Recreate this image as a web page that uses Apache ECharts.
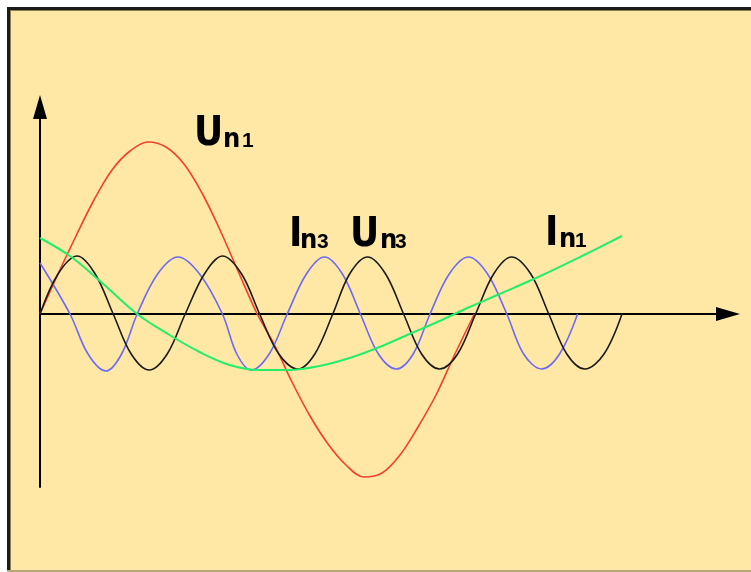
<!DOCTYPE html>
<html>
<head>
<meta charset="utf-8">
<script src="https://cdn.jsdelivr.net/npm/echarts@6/dist/echarts.min.js"></script>
<style>
  html, body { margin: 0; padding: 0; background: #fff; }
  #chart { width: 751px; height: 572px; }
</style>
</head>
<body>
<div id="chart"></div>
<script>
// x: electrical degrees of the fundamental, y: drawing units (0 = time axis)
const un1X = [0, 15, 30, 45, 60, 75, 90, 105, 120, 135, 150, 165, 181, 195, 210, 225, 240, 255, 270, 285, 300, 315, 330, 345, 362]
const un1Y = [0, 40, 78, 114, 144, 163, 172, 167, 150, 121, 84, 43, 0, -30, -68, -102, -130, -151, -163, -159, -141, -113, -81, -42, 0]

const un3X = [0, 15, 31, 46, 61, 76, 91, 106, 121, 137, 152, 168, 183, 199, 215, 229, 244, 258, 273, 288, 303, 318, 333, 348, 363, 378, 393, 409, 424, 439, 454, 470, 485]
const un3Y = [0, 40, 58, 40, 0, -40, -56, -40, 0, 40, 58, 40, 0, -40, -55, -40, 0, 40, 57, 40, 0, -40, -55, -40, 0, 40, 57, 40, 0, -40, -55, -40, 0]

const in3X = [0, 25, 40, 55, 68, 81, 98, 115, 133, 152, 164, 176, 191, 206, 222, 237, 252, 267, 282, 297, 311, 325, 341, 357, 373, 389, 403, 418, 433, 448]
const in3Y = [51, 0, -40, -57, -40, 0, 40, 57, 40, 0, -40, -56, -40, 0, 40, 57, 40, 0, -40, -55, -40, 0, 40, 57, 40, 0, -40, -55, -40, 0]

const in1X = [0, 25, 50, 81, 108, 133, 158, 183, 208, 233, 258, 283, 308, 333, 358, 383, 417, 450, 485]
const in1Y = [76, 58, 33, 0, -21, -38, -51, -56, -56, -52, -44, -33, -20, -7, 7, 20, 38, 57, 78]

// curve labels: big letter + small "n" + harmonic number
const labelBig = ['U', 'I', 'U', 'I']
const labelNum = ['1', '3', '3', '1']

const labelPos = [
  { big: 194, n: 223, num: 242, base: 149 },
  { big: 289, n: 300, num: 317, base: 250 },
  { big: 350, n: 380, num: 395, base: 250 },
  { big: 545, n: 559, num: 575, base: 249 }
]

function zip (xs, ys) {
  return xs.map((x, i) => [x, ys[i]])
}

const font = "'Liberation Sans Narrow', 'DejaVu Sans Condensed', 'Liberation Sans', sans-serif"
function txt (s, x, base, size, family) {
  return {
    type: 'text',
    z: 20,
    x: x,
    y: base - 0.35 * size,
    style: {
      text: s,
      fontFamily: family || font,
      fontWeight: 'bold',
      fontSize: size,
      fill: '#000',
      align: 'left',
      verticalAlign: 'middle'
    }
  }
}

const graphics = [
  // page frame
  { type: 'rect', z: -10, shape: { x: 7, y: 7, width: 760, height: 565 }, style: { fill: '#FFE8A6' } },
  { type: 'rect', z: -9, shape: { x: 7, y: 7, width: 760, height: 3 }, style: { fill: '#1d1b18' } },
  { type: 'rect', z: -9, shape: { x: 7, y: 10, width: 760, height: 1 }, style: { fill: '#8f7d55' } },
  { type: 'rect', z: -9, shape: { x: 7, y: 7, width: 3, height: 565 }, style: { fill: '#1d1b18' } },
  { type: 'rect', z: -9, shape: { x: 10, y: 10, width: 1, height: 562 }, style: { fill: '#8f7d55' } },
  { type: 'rect', z: -9, shape: { x: 7, y: 570, width: 760, height: 2 }, style: { fill: '#b3a97a' } }
]
labelPos.forEach((p, i) => {
  graphics.push(txt(labelBig[i], p.big, p.base, 40))
  graphics.push(txt('n', p.n, p.base, 27))
  graphics.push(txt(labelNum[i], p.num, p.base, 21, "'Liberation Sans', sans-serif"))
})

const lineBase = {
  type: 'line',
  showSymbol: false,
  smooth: 0.35,
  animation: false,
  silent: true
}

const option = {
  backgroundColor: '#fff',
  animation: false,
  grid: { left: 40, right: 23, top: 107, bottom: 85 },
  xAxis: {
    type: 'value',
    min: 0,
    max: 573.33,
    axisLine: {
      onZero: true,
      symbol: ['none', 'triangle'],
      symbolSize: [14, 24],
      lineStyle: { color: '#000', width: 2 }
    },
    axisTick: { show: false },
    axisLabel: { show: false },
    splitLine: { show: false }
  },
  yAxis: {
    type: 'value',
    min: -173,
    max: 207,
    axisLine: {
      show: true,
      onZero: true,
      symbol: ['none', 'triangle'],
      symbolSize: [14, 24],
      lineStyle: { color: '#000', width: 2 }
    },
    axisTick: { show: false },
    axisLabel: { show: false },
    splitLine: { show: false }
  },
  series: [
    Object.assign({}, lineBase, { name: 'Un1', data: zip(un1X, un1Y), lineStyle: { color: '#F0412B', width: 1.6 } }),
    Object.assign({}, lineBase, { name: 'In3', data: zip(in3X, in3Y), lineStyle: { color: '#6B6BF5', width: 1.6 } }),
    Object.assign({}, lineBase, { name: 'Un3', data: zip(un3X, un3Y), lineStyle: { color: '#1a1a1a', width: 1.6 } }),
    Object.assign({}, lineBase, { name: 'In1', data: zip(in1X, in1Y), lineStyle: { color: '#22EE6A', width: 2 } })
  ],
  graphic: graphics
}

const chart = echarts.init(document.getElementById('chart'))
chart.setOption(option)
</script>
</body>
</html>
